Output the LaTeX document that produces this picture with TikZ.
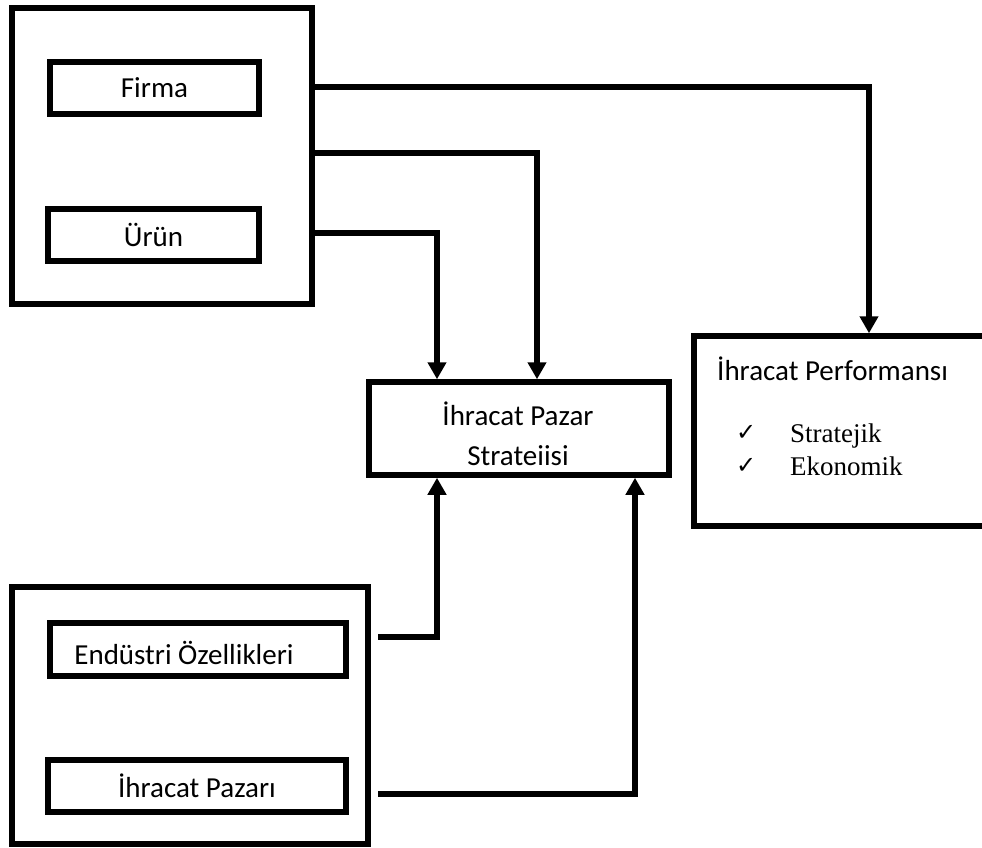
\documentclass[tikz,border=0pt]{standalone}
\usepackage{fontspec}
\setmainfont{Carlito}
\newfontfamily\timesfont{Liberation Serif}
\newfontfamily\isaretfont{DejaVu Sans}
\usetikzlibrary{positioning,arrows.meta,calc}

\tikzset{
  kutu/.style={draw, line width=5.5pt, inner sep=0pt, font=\fontsize{29}{40}\selectfont},
  ok/.style={line width=5.5pt, -{Triangle[width=18pt,length=17pt]}},
  yazi/.style={inner sep=0pt, font=\fontsize{29}{40}\selectfont},
  madde/.style={inner sep=0pt, anchor=base west, font=\timesfont\fontsize{27}{32}\selectfont},
  tik/.style={inner sep=0pt, anchor=base west, font=\isaretfont\fontsize{24}{28}\selectfont},
}

\begin{document}
\begin{tikzpicture}[x=1pt,y=-1pt]
  \useasboundingbox (0,0) rectangle (982,847);

  % Nodes
  \node[kutu, minimum width=300pt, minimum height=296pt] (grupA) at (162,156) {};
  \node[kutu, minimum width=209pt, minimum height=52pt] (firma) at (154.5,88) {Firma};
  \node[kutu, minimum width=211pt, minimum height=52pt] (urun) at (153.5,235) {Ürün};

  \node[kutu, minimum width=356pt, minimum height=257pt] (grupB) at (190,715.5) {};
  \node[kutu, minimum width=296pt, minimum height=53pt] (endustri) at (198,649.5) {};
  \node[yazi, anchor=base] (endustriyazi) at (184,664) {Endüstri Özellikleri};
  \node[kutu, minimum width=298pt, minimum height=52pt] (pazar) at (197,786) {İhracat Pazarı};

  \node[kutu, minimum width=300pt, minimum height=93pt] (strateji) at (519,428.5) {};
  \node[yazi, anchor=base, align=center] (stratejiyazi) at (518,465) {İhracat Pazar\\Strateiisi};

  \node[kutu, minimum width=296pt, minimum height=190pt] (performans) at (842,431) {};
  \node[yazi, anchor=base west] (performansyazi) at (717,380) {İhracat Performansı};
  \node[tik] (tik1) at (736,440) {✓};
  \node[madde] (stratejik) at (790,442) {Stratejik};
  \node[tik] (tik2) at (736,473) {✓};
  \node[madde] (ekonomik) at (790,475) {Ekonomik};

  % Arrows
  \draw[ok] (grupA.east |- 0,87) -| ([xshift=27pt]performans.north);
  \draw[ok] (grupA.east |- 0,153) -| ([xshift=18pt]strateji.north);
  \draw[ok] (grupA.east |- 0,233) -| ([xshift=-82pt]strateji.north);
  \draw[ok] ($(grupB.east |- 0,637)+(7.5,0)$) -| ([xshift=-82pt]strateji.south);
  \draw[ok] ($(grupB.east |- 0,794)+(7.5,0)$) -| ([xshift=116pt]strateji.south);
\end{tikzpicture}
\end{document}
